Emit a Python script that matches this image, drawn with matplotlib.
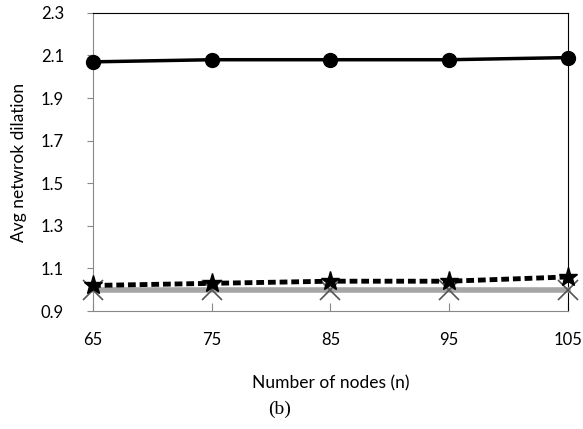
import matplotlib
matplotlib.use("Agg")
import matplotlib.pyplot as plt

# data
nodes = [65, 75, 85, 95, 105]
dilation_a = [2.07, 2.08, 2.08, 2.08, 2.09]
dilation_b = [1.02, 1.03, 1.04, 1.04, 1.06]
dilation_c = [1.0, 1.0, 1.0, 1.0, 1.0]
y_ticks = [0.9, 1.1, 1.3, 1.5, 1.7, 1.9, 2.1, 2.3]

plt.rcParams['font.family'] = ['Lato', 'DejaVu Sans']

fig = plt.figure(figsize=(5.83, 4.29), dpi=100)
ax = fig.add_axes([0.1595, 0.275, 0.8145, 0.695])

ax.plot(nodes, dilation_c, color='#a6a6a6', linewidth=4, marker='x',
        markersize=14, markeredgewidth=1.2, markeredgecolor='#555555',
        clip_on=False, zorder=3)
ax.plot(nodes, dilation_b, color='black', linewidth=3.5, linestyle=(0, (1.6, 0.8)),
        marker='*', markersize=14, clip_on=False, zorder=4)
ax.plot(nodes, dilation_a, color='black', linewidth=2.5, marker='o',
        markersize=10, clip_on=False, zorder=5)

ax.set_xlim(65, 105)
ax.set_ylim(0.9, 2.3)
ax.set_xticks(nodes)
ax.set_yticks(y_ticks)
ax.set_yticklabels([f'{v:.1f}' for v in y_ticks])
ax.tick_params(axis='x', direction='in', length=6, pad=15, labelsize=12, color='#888888')
ax.tick_params(axis='y', direction='out', length=4, pad=17, labelsize=12, color='#888888')
for side in ['top', 'right']:
    ax.spines[side].set_color('black')
for side in ['left', 'bottom']:
    ax.spines[side].set_color('#888888')

ax.set_xlabel('Number of nodes (n)', fontsize=12.5, labelpad=20)
ax.set_ylabel('Avg netwrok dilation', fontsize=12.5, labelpad=10)

fig.text(0.48, 0.045, '(b)', fontsize=14, ha='center', va='center',
         family='Liberation Serif')

fig.savefig('out.png', dpi=100)
